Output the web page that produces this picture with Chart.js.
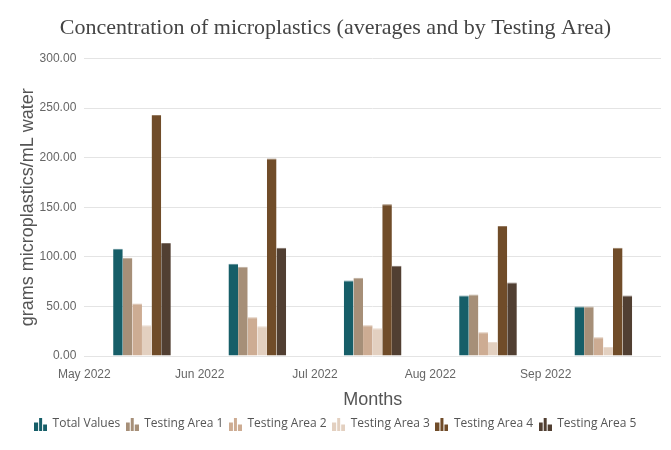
<!DOCTYPE html>
<html>
<head>
<meta charset="utf-8">
<script src="https://cdn.jsdelivr.net/npm/chart.js@4.4.0/dist/chart.umd.min.js"></script>
<style>
  html, body { margin: 0; padding: 0; background: #fff; }
  #wrap { width: 671px; height: 450px; }
</style>
</head>
<body>
<div id="wrap"><canvas id="barChart"></canvas></div>
<script>
// Month labels, ticks sit at the start of each month
var months = ["May 2022", "Jun 2022", "Jul 2022", "Aug 2022", "Sep 2022"];
// bars are placed in the middle of each month slot
var monthPos = [0.5, 1.5, 2.5, 3.5, 4.5];

var totalValues = [108, 93, 76, 61, 50];
var area1 = [99, 90, 79, 62, 50];
var area2 = [53, 39, 31, 24, 19];
var area3 = [31, 30, 28, 14, 9];
var area4 = [243, 199, 153, 131, 109];
var area5 = [114, 109, 91, 74, 61];

var yTicks = [0, 50, 100, 150, 200, 250, 300];

// little bar-chart icon for the legend
function legendIcon(color) {
    var c = document.createElement("canvas");
    c.width = 13;
    c.height = 13;
    var g = c.getContext("2d");
    g.fillStyle = color;
    g.fillRect(0, 5, 4, 8);
    g.fillRect(5, 0, 3, 13);
    g.fillRect(9, 7, 4, 6);
    return c;
}

// a slightly lighter shade for the bar edge
function lighter(hex) {
    var n = parseInt(hex.slice(1), 16);
    var r = (n >> 16) & 255, g = (n >> 8) & 255, b = n & 255;
    var mix = function(c) { return Math.round(c + (255 - c) * 0.25); };
    return "rgb(" + mix(r) + "," + mix(g) + "," + mix(b) + ")";
}

function points(values) {
    return values.map(function(v, i) {
        return { x: monthPos[i], y: v };
    });
}

function makeSet(label, values, color) {
    return {
        label: label,
        data: points(values),
        backgroundColor: color,
        borderColor: lighter(color),
        borderWidth: { top: 1, left: 0, right: 0, bottom: 0 },
        borderSkipped: "bottom",
        pointStyle: legendIcon(color)
    };
}

var ctx = document.getElementById("barChart").getContext("2d");

var myChart = new Chart(ctx, {
    type: "bar",
    data: {
        datasets: [
            makeSet("Total Values", totalValues, "#165e68"),
            makeSet("Testing Area 1", area1, "#a68f78"),
            makeSet("Testing Area 2", area2, "#cdac93"),
            makeSet("Testing Area 3", area3, "#e3d0c0"),
            makeSet("Testing Area 4", area4, "#704c29"),
            makeSet("Testing Area 5", area5, "#513f32")
        ]
    },
    options: {
        responsive: true,
        maintainAspectRatio: false,
        animation: false,
        layout: {
            padding: { left: 10, right: 10, top: 0, bottom: 10 }
        },
        datasets: {
            bar: {
                categoryPercentage: 0.5,
                barPercentage: 1.0
            }
        },
        plugins: {
            title: {
                display: true,
                text: "Concentration of microplastics (averages and by Testing Area)",
                color: "#444",
                font: { family: "'Liberation Serif', serif", size: 22, weight: "normal" },
                padding: { top: 15, bottom: 17 }
            },
            legend: {
                position: "bottom",
                labels: {
                    usePointStyle: true,
                    color: "#555",
                    font: { family: "'Open Sans', sans-serif", size: 12 },
                    padding: 6
                }
            },
            tooltip: { enabled: false }
        },
        scales: {
            x: {
                type: "linear",
                min: 0,
                max: 5,
                offset: false,
                grid: { display: false, offset: false },
                border: { display: false },
                afterBuildTicks: function(axis) {
                    axis.ticks = months.map(function(m, i) { return { value: i }; });
                },
                ticks: {
                    color: "#666",
                    font: { family: "'Liberation Sans', Arial, sans-serif", size: 12 },
                    maxRotation: 0,
                    callback: function(value) {
                        return months[value] || "";
                    }
                },
                title: {
                    display: true,
                    text: "Months",
                    color: "#555",
                    font: { family: "'Liberation Sans', Arial, sans-serif", size: 18 },
                    padding: { top: 5, bottom: 1 }
                }
            },
            y: {
                min: 0,
                max: 300,
                grid: { color: "#e4e4e4", drawTicks: false },
                border: { display: false },
                afterBuildTicks: function(axis) {
                    axis.ticks = yTicks.map(function(v) { return { value: v }; });
                },
                ticks: {
                    color: "#666",
                    padding: 8,
                    font: { family: "'Liberation Sans', Arial, sans-serif", size: 12 },
                    callback: function(value) {
                        return value.toFixed(2);
                    }
                },
                title: {
                    display: true,
                    text: "grams microplastics/mL water",
                    color: "#555",
                    font: { family: "'Liberation Sans', Arial, sans-serif", size: 18 },
                    padding: { top: 7, bottom: -7 }
                }
            }
        }
    }
});
</script>
</body>
</html>
